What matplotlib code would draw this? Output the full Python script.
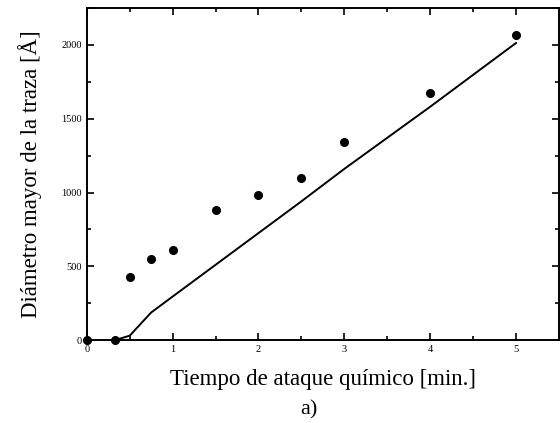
import numpy as np
import matplotlib
matplotlib.use("Agg")
import matplotlib.pyplot as plt
from matplotlib.ticker import MultipleLocator

plt.rcParams["font.family"] = ["Liberation Serif", "DejaVu Serif"]

# measured points
t_meas = [0.0, 0.33, 0.5, 0.75, 1.0, 1.5, 2.0, 2.5, 3.0, 4.0, 5.0]
d_meas = [0, 0, 426, 549, 608, 883, 980, 1099, 1340, 1676, 2065]

# model curve
t_model = [0.33, 0.5, 0.75, 1.0, 1.5, 2.0, 2.5, 3.0, 4.0, 5.0]
d_model = [0, 30, 187, 295, 510, 725, 940, 1160, 1581, 2013]

fig = plt.figure(figsize=(5.6, 4.23), dpi=100)
ax = fig.add_axes([0.155, 0.196, 0.843, 0.785])

ax.plot(t_model, d_model, "-", color="black", linewidth=1.4)
ax.plot(t_meas, d_meas, "o", color="black", ms=5.5, clip_on=False, zorder=3)

ax.set_xlim(0, 5.5)
ax.set_ylim(0, 2250)
ax.xaxis.set_major_locator(MultipleLocator(1))
ax.xaxis.set_minor_locator(MultipleLocator(0.5))
ax.yaxis.set_major_locator(MultipleLocator(500))
ax.yaxis.set_minor_locator(MultipleLocator(250))
ax.tick_params(which="both", direction="in", top=True, right=True, labelsize=7.5, width=1.2)
ax.tick_params(which="major", length=5)
ax.tick_params(which="minor", length=3)
for s in ax.spines.values():
    s.set_linewidth(1.4)

ax.set_xlabel("Tiempo de ataque químico [min.]", fontsize=16.5, labelpad=11)
ax.set_ylabel("Diámetro mayor de la traza [Å]", fontsize=16.5, labelpad=14)
fig.text(0.552, 0.02, "a)", fontsize=16, ha="center")

fig.savefig("out.png", dpi=100)
